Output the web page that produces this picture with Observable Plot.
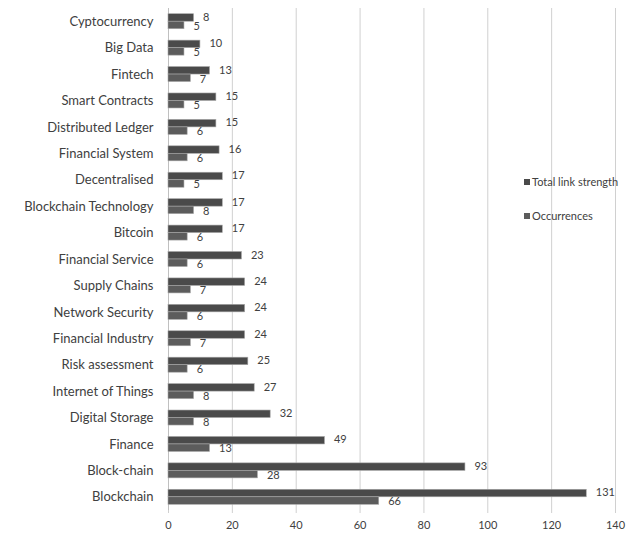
<!DOCTYPE html>
<html>
<head>
<meta charset="utf-8">
<script src="https://cdn.jsdelivr.net/npm/d3@7"></script>
<script src="https://cdn.jsdelivr.net/npm/@observablehq/plot@0.6"></script>
<style>
  body { margin: 0; background: #fff; }
  #wrap { position: relative; width: 640px; height: 534px; }
  .legend { position: absolute; left: 524px; font: 11px Lato, sans-serif; color: #404040; display: flex; align-items: center; }
  .legend span.sw { display: inline-block; width: 6px; height: 6px; margin-right: 2px; }
</style>
</head>
<body>
<div id="wrap"></div>
<script>
const categories = ["Cyptocurrency","Big Data","Fintech","Smart Contracts","Distributed Ledger","Financial System","Decentralised","Blockchain Technology","Bitcoin","Financial Service","Supply Chains","Network Security","Financial Industry","Risk assessment","Internet of Things","Digital Storage","Finance","Block-chain","Blockchain"];
const totalLinkStrength = [8,10,13,15,15,16,17,17,17,23,24,24,24,25,27,32,49,93,131];
const occurrences = [5,5,7,5,6,6,5,8,6,6,7,6,7,6,8,8,13,28,66];
const seriesNames = ["Total link strength","Occurrences"];
const xTicks = [0,20,40,60,80,100,120,140];
const colors = ["#4a4a4a","#5c5c5c"];

const totalRows = categories.map((c, i) => ({category: c, value: totalLinkStrength[i]}));
const occRows = categories.map((c, i) => ({category: c, value: occurrences[i]}));

const H = 534, MT = 8, MB = 24;
const step = (H - MT - MB) / categories.length;
const barH = 7.5;
const half = step / 2;

const chart = Plot.plot({
  width: 640,
  height: H,
  marginLeft: 168,
  marginRight: 25,
  marginTop: MT,
  marginBottom: MB,
  style: {fontFamily: "Lato, sans-serif", color: "#404040", background: "#fff"},
  y: {domain: categories, padding: 0, round: false, axis: null},
  x: {domain: [0, 140], axis: null},
  marks: [
    Plot.gridX(xTicks, {stroke: "#d0d0d0", strokeOpacity: 1}),
    Plot.ruleX([0], {stroke: "#c0c0c0"}),
    Plot.barX(totalRows, {y: "category", x: "value", fill: colors[0], stroke: "#a6a6a6", strokeWidth: 0.6, insetTop: half - barH, insetBottom: half}),
    Plot.barX(occRows, {y: "category", x: "value", fill: colors[1], stroke: "#a6a6a6", strokeWidth: 0.6, insetTop: half, insetBottom: half - barH}),
    Plot.text(totalRows, {y: "category", x: "value", text: d => String(d.value), textAnchor: "start", dx: 9, dy: -4.5, fontSize: 11, fill: "#404040"}),
    Plot.text(occRows, {y: "category", x: "value", text: d => String(d.value), textAnchor: "start", dx: 9, dy: 4.5, fontSize: 11, fill: "#404040"}),
    Plot.axisY({anchor: "left", tickSize: 0, tickPadding: 15, label: null, fontSize: 13}),
    Plot.axisX({ticks: xTicks, tickSize: 3, tickPadding: 8, label: null, fontSize: 11, stroke: "#d0d0d0"})
  ]
});
const wrap = document.getElementById("wrap");
wrap.appendChild(chart);

seriesNames.forEach((s, i) => {
  const div = document.createElement("div");
  div.className = "legend";
  div.style.top = (i === 0 ? 175 : 209) + "px";
  div.innerHTML = `<span class="sw" style="background:${colors[i]}"></span>${s}`;
  wrap.appendChild(div);
});
</script>
</body>
</html>
